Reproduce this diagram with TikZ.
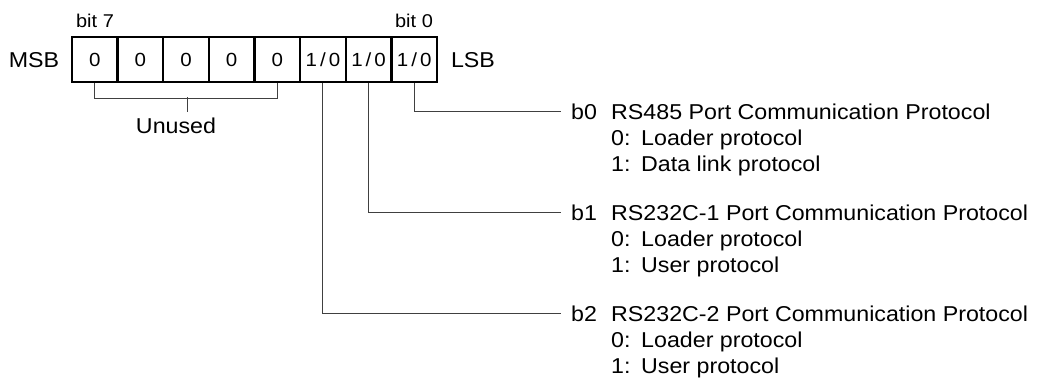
\documentclass[tikz,border=0pt]{standalone}
\usepackage{fontspec}
\setmainfont{Liberation Sans}[FakeStretch=1.08]
\newcommand{\onezero}{1\kern0.16em/\kern0.16em0}
\begin{document}
\begin{tikzpicture}[x=1pt,y=-1pt,
  cellbox/.style={draw=black,line width=2.3pt,minimum width=45.6pt,minimum height=45pt,inner sep=0pt,font=\fontsize{19}{20}\selectfont},
  lbl/.style={inner sep=0pt,font=\fontsize{21.5}{24}\selectfont},
  small/.style={inner sep=0pt,font=\fontsize{18.5}{20}\selectfont},
  desc/.style={inner sep=0pt,anchor=base west,font=\fontsize{21.5}{24}\selectfont},
  bitlbl/.style={inner ysep=0pt,inner xsep=10pt,anchor=base west,font=\fontsize{21.5}{24}\selectfont},
  conn/.style={draw=black!75,line width=1pt}]
\useasboundingbox (0,0) rectangle (1043,389);
\foreach \i/\t in {7/0,6/0,5/0,4/0,3/0,2/{\onezero},1/{\onezero},0/{\onezero}}{
  \node[cellbox] (bit\i) at ({72+45.625*(7-\i+0.5)},59.5) {\t};
}
\node[lbl] (msb) at (34,60) {MSB};
\node[lbl] (lsb) at (473,60) {LSB};
\node[small] (b7t) at (95,21) {bit 7};
\node[small] (b0t) at (414,21) {bit 0};
% unused bracket
\coordinate (ub) at (187,112);
\draw[conn] (bit7.south) -- ++(0,15) -| (bit3.south);
\draw[conn] (187,97) -- (ub);
\node[lbl,anchor=north] (unused) at (176,118) {Unused};
% descriptions
\node[bitlbl] (d0) at (561,119.5) {b0};
\node[desc] (t0) at (611,119.5) {RS485 Port Communication Protocol};
\node[desc] (t0a) at (611,145.5) {0:};
\node[desc] (t0b) at (641,145.5) {Loader protocol};
\node[desc] (t0c) at (611,171.5) {1:};
\node[desc] (t0d) at (641,171.5) {Data link protocol};
\node[bitlbl] (d1) at (561,220.5) {b1};
\node[desc] (t1) at (611,220.5) {RS232C-1 Port Communication Protocol};
\node[desc] (t1a) at (611,246.5) {0:};
\node[desc] (t1b) at (641,246.5) {Loader protocol};
\node[desc] (t1c) at (611,272.5) {1:};
\node[desc] (t1d) at (641,272.5) {User protocol};
\node[bitlbl] (d2) at (561,321.5) {b2};
\node[desc] (t2) at (611,321.5) {RS232C-2 Port Communication Protocol};
\node[desc] (t2a) at (611,347.5) {0:};
\node[desc] (t2b) at (641,347.5) {Loader protocol};
\node[desc] (t2c) at (611,373.5) {1:};
\node[desc] (t2d) at (641,373.5) {User protocol};
\draw[conn] (bit0.south) |- (d0.west);
\draw[conn] (bit1.south) |- (d1.west);
\draw[conn] (bit2.south) |- (d2.west);
\end{tikzpicture}
\end{document}
